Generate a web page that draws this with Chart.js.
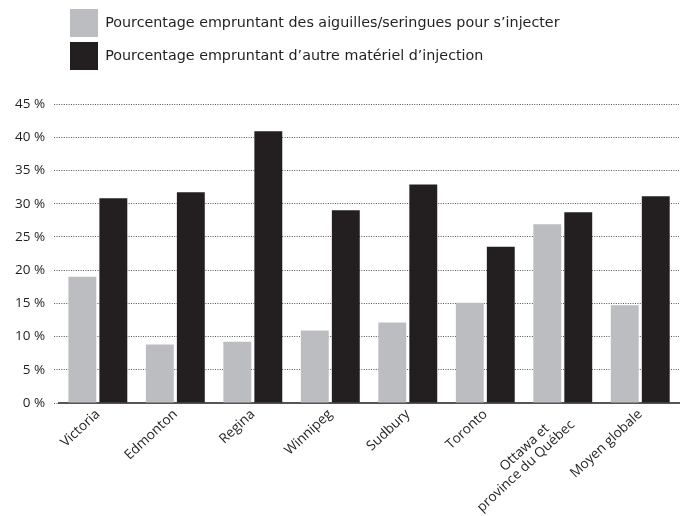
<!DOCTYPE html>
<html>
<head>
<meta charset="utf-8">
<script src="https://cdn.jsdelivr.net/npm/chart.js@4/dist/chart.umd.min.js"></script>
<style>
  html, body { margin: 0; padding: 0; background: #fff; }
  #wrap { width: 684px; height: 516px; }
</style>
</head>
<body>
<div id="wrap"><canvas id="injection"></canvas></div>
<script>
// trailing spaces pull the short first line back so the two lines sit centred
const cities = ['Victoria', 'Edmonton', 'Regina', 'Winnipeg', 'Sudbury', 'Toronto', ['Ottawa et      ', 'province du Québec'], 'Moyen globale'];
const needles = [19.0, 8.8, 9.2, 10.9, 12.1, 15.1, 26.9, 14.7];
const otherGear = [30.8, 31.7, 40.9, 29.0, 32.9, 23.5, 28.7, 31.1];
const seriesNames = ['Pourcentage empruntant des aiguilles/seringues pour s\u2019injecter', 'Pourcentage empruntant d\u2019autre matériel d\u2019injection'];

// legend sits indented and leaves room above the plot
const legendPlacer = {
  id: 'legendPlacer',
  afterInit(chart) {
    const legend = chart.legend;
    const fit = legend.fit;
    legend.fit = function() {
      fit.call(this);
      this.height += 28;
    };
  },
  afterLayout(chart) {
    chart.legend.left += 59;
    chart.legend.top += 4;
  }
};

const tickFont = {family: '"Open Sans", sans-serif', size: 13.5};

const chart = new Chart(
  document.getElementById('injection'),
  {
    type: 'bar',
    data: {
      labels: cities,
      datasets: [
        {
          label: seriesNames[0],
          data: needles,
          backgroundColor: '#bcbdc0'
        },
        {
          label: seriesNames[1],
          data: otherGear,
          backgroundColor: '#231f20'
        }
      ]
    },
    options: {
      responsive: true,
      maintainAspectRatio: false,
      animation: false,
      datasets: {
        bar: {
          categoryPercentage: 0.8,
          barPercentage: 0.9
        }
      },
      layout: {
        padding: {left: 6, right: 5, bottom: 0}
      },
      plugins: {
        tooltip: {enabled: false},
        legend: {
          align: 'start',
          labels: {
            boxWidth: 28,
            boxHeight: 28,
            padding: 5,
            color: '#231f20',
            font: {family: '"DejaVu Sans", sans-serif', size: 14.3}
          }
        }
      },
      scales: {
        x: {
          grid: {display: false},
          border: {display: true, color: '#555', width: 2},
          afterFit: scale => { scale.height = 113; },
          ticks: {
            color: '#231f20',
            font: {family: '"Open Sans", sans-serif', size: 13.6, lineHeight: 1.05},
            minRotation: 43,
            maxRotation: 43,
            padding: -4
          }
        },
        y: {
          min: 0,
          max: 45,
          border: {display: false, dash: [1, 1.4]},
          grid: {
            color: '#555',
            lineWidth: 1,
            tickLength: 5,
            tickBorderDash: [1, 1.4],
            tickColor: '#555'
          },
          ticks: {
            stepSize: 5,
            color: '#231f20',
            font: tickFont,
            padding: 9,
            callback: v => v + ' %'
          }
        }
      }
    },
    plugins: [legendPlacer]
  }
);
</script>
</body>
</html>
